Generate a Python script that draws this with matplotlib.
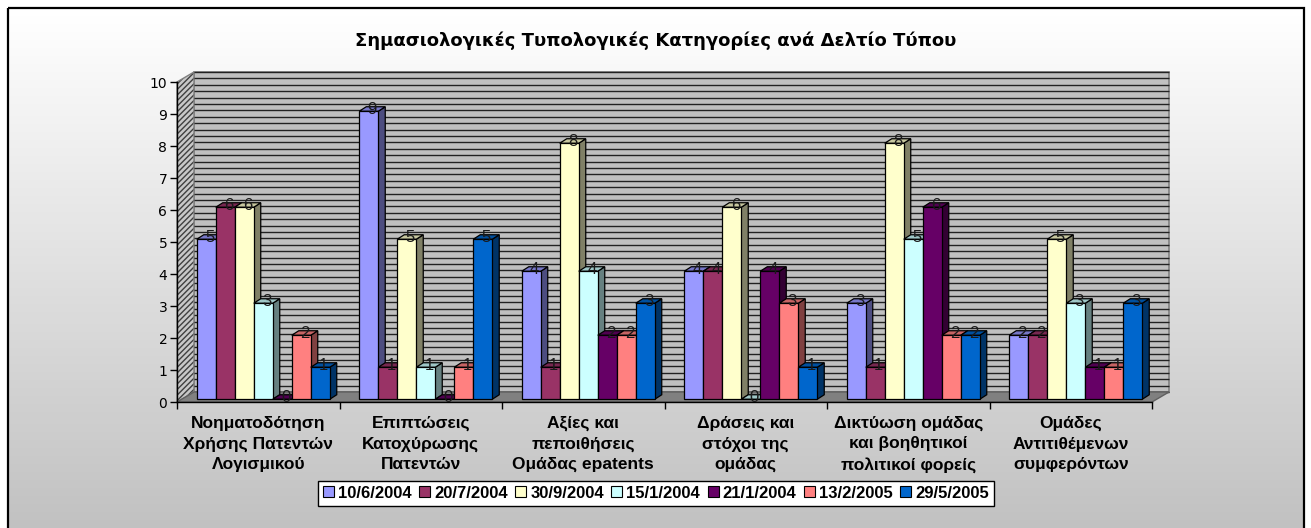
import numpy as np
import matplotlib.pyplot as plt
from matplotlib import font_manager
from matplotlib.font_manager import FontProperties
from matplotlib.patches import Polygon, Rectangle
from matplotlib.colors import to_rgb

# Chart data
categories = [
    "Νοηματοδότηση\nΧρήσης Πατεντών\nΛογισμικού",
    "Επιπτώσεις\nΚατοχύρωσης\nΠατεντών",
    "Αξίες και\nπεποιθήσεις\nΟμάδας epatents",
    "Δράσεις και\nστόχοι της\nομάδας",
    "Δικτύωση ομάδας\nκαι βοηθητικοί\nπολιτικοί φορείς",
    "Ομάδες\nΑντιτιθέμενων\nσυμφερόντων",
]
dates = ["10/6/2004", "20/7/2004", "30/9/2004", "15/1/2004",
         "21/1/2004", "13/2/2005", "29/5/2005"]
v_10_6_2004 = [5, 9, 4, 4, 3, 2]
v_20_7_2004 = [6, 1, 1, 4, 1, 2]
v_30_9_2004 = [6, 5, 8, 6, 8, 5]
v_15_1_2004 = [3, 1, 4, 0, 5, 3]
v_21_1_2004 = [0, 0, 2, 4, 6, 1]
v_13_2_2005 = [2, 1, 2, 3, 2, 1]
v_29_5_2005 = [1, 5, 3, 1, 2, 3]
series = [v_10_6_2004, v_20_7_2004, v_30_9_2004, v_15_1_2004,
          v_21_1_2004, v_13_2_2005, v_29_5_2005]
colors = ["#9999FF", "#993366", "#FFFFCC", "#CCFFFF",
          "#660066", "#FF8080", "#0066CC"]

# pick a bold face for the category names, narrow one if present
bold_names = {f.name for f in font_manager.fontManager.ttflist
              if f.weight in (700, "bold")}
cat_family = "Liberation Sans Narrow" if "Liberation Sans Narrow" in bold_names else "Liberation Sans"
cat_font = FontProperties(family=cat_family, weight="bold", size=12.5)

W, H = 1311, 528
fig = plt.figure(figsize=(W / 100, H / 100), dpi=100)
fig.patch.set_facecolor("white")

# background: vertical white-to-grey gradient inside a black frame
bg = fig.add_axes([0, 0, 1, 1])
bg.set_zorder(-10)
bg.set_xlim(0, W)
bg.set_ylim(H, 0)
bg.axis("off")
edges = np.arange(8, H + 4, 4)
for y0 in edges:
    g = 1.0 - 0.245 * (y0 - 8) / (H - 8)
    bg.add_patch(Rectangle((8, y0), 1296, 4.5, facecolor=(g, g, g),
                           lw=0, antialiased=False))
bg.add_patch(Rectangle((8, 8), 1296, 540, fill=False, edgecolor="black", lw=1.6))

fig.text(656 / W, 1 - 41 / H, "Σημασιολογικές Τυπολογικές Κατηγορίες ανά Δελτίο Τύπου",
         ha="center", va="center", fontsize=13, fontweight="bold",
         family="DejaVu Sans")

ax = fig.add_axes([177 / W, 126 / H, 975 / W, 320 / H])
ax.set_xlim(0, len(categories))
ax.set_ylim(0, 10)
ax.patch.set_visible(False)

ncat = len(categories)
# depth of the floor/walls and of each bar, in data units
DX, DY = 17 / 162.5, 10 / 32
BDX, BDY = 7 / 162.5, 4.5 / 32
SX, SY = (DX - BDX) / 2, (DY - BDY) / 2
bw = 19 / 162.5
group_left = 0.5 - len(series) * bw / 2

# back wall with narrow horizontal stripes
ax.add_patch(Rectangle((DX, DY), ncat, 10, facecolor="#C0C0C0",
                       edgecolor="#808080", lw=1.2, clip_on=False, zorder=1))
for y in np.arange(0, 10.001, 0.2):
    ax.plot([DX, ncat + DX], [y + DY, y + DY], color="#222222", lw=1.0,
            clip_on=False, zorder=1.5, solid_capstyle="butt")

# side wall with diagonal hatch
side = [(0, 0), (DX, DY), (DX, 10 + DY), (0, 10)]
ax.add_patch(Polygon(side, facecolor="#C8C8C8", edgecolor="none",
                     clip_on=False, zorder=1))
ax.add_patch(Polygon(side, facecolor="none", edgecolor="#404040", lw=0,
                     hatch="//////", clip_on=False, zorder=1.2))
ax.add_patch(Polygon(side, facecolor="none", edgecolor="#808080", lw=1.0,
                     clip_on=False, zorder=1.3))

# floor
ax.add_patch(Polygon([(0, 0), (ncat, 0), (ncat + DX, DY), (DX, DY)],
                     facecolor="#808080", edgecolor="#606060", lw=1.0,
                     clip_on=False, zorder=1.6))


def shade(c, f):
    r, g, b = to_rgb(c)
    return (r * f, g * f, b * f)


for j in range(ncat):
    for i, vals in enumerate(series):
        v = vals[j]
        x0 = j + group_left + SX + i * bw
        x1 = x0 + bw
        top = v + SY
        col = colors[i]
        z = 2 + j + i * 0.01
        ax.add_patch(Polygon([(x1, SY), (x1 + BDX, SY + BDY), (x1 + BDX, top + BDY), (x1, top)],
                             facecolor=shade(col, 0.5), edgecolor="black", lw=0.9,
                             clip_on=False, zorder=z))
        ax.add_patch(Polygon([(x0, top), (x1, top), (x1 + BDX, top + BDY), (x0 + BDX, top + BDY)],
                             facecolor=shade(col, 0.78), edgecolor="black", lw=0.9,
                             clip_on=False, zorder=z))
        ax.bar(x0, v, width=bw, bottom=SY, align="edge", color=col,
               edgecolor="black", lw=0.9, clip_on=False, zorder=z + 0.001)
        ax.text((x0 + x1) / 2 + BDX / 2, top + BDY / 2, str(v), ha="center",
                va="center", fontsize=12, color="#1a1a1a", family="Liberation Sans",
                zorder=20, clip_on=False)

for s in ["top", "right"]:
    ax.spines[s].set_visible(False)
ax.spines["left"].set_linewidth(1.0)
ax.spines["bottom"].set_linewidth(1.0)
ax.spines["left"].set_zorder(15)
ax.spines["bottom"].set_zorder(15)

ax.set_yticks(range(0, 11))
ax.tick_params(axis="y", length=5, width=1, pad=2)
ax.set_yticklabels([str(k) for k in range(0, 11)],
                   fontdict={"family": "DejaVu Sans", "size": 10})

ax.set_xticks(range(0, ncat + 1))
ax.tick_params(axis="x", length=5, width=1, labelbottom=False)

# category names below the axis
for j, name in enumerate(categories):
    ax.text(j + 0.5, -42 / 32, name, ha="center", va="center",
            fontproperties=cat_font, linespacing=1.45, clip_on=False)

handles = [Rectangle((0, 0), 1, 1, facecolor=c, edgecolor="black", lw=0.8) for c in colors]
leg = fig.legend(handles, dates, loc="center", bbox_to_anchor=(656 / W, 1 - 493 / H),
                 ncol=7, frameon=True, fancybox=False, handlelength=0.65,
                 handleheight=0.65, handletextpad=0.25, columnspacing=0.45,
                 borderpad=0.3,
                 prop=FontProperties(family="Liberation Sans", weight="bold", size=12))
leg.get_frame().set_edgecolor("black")
leg.get_frame().set_linewidth(1.0)
leg.get_frame().set_facecolor("white")
leg.get_frame().set_alpha(1)

fig.savefig("out.png", dpi=100)
